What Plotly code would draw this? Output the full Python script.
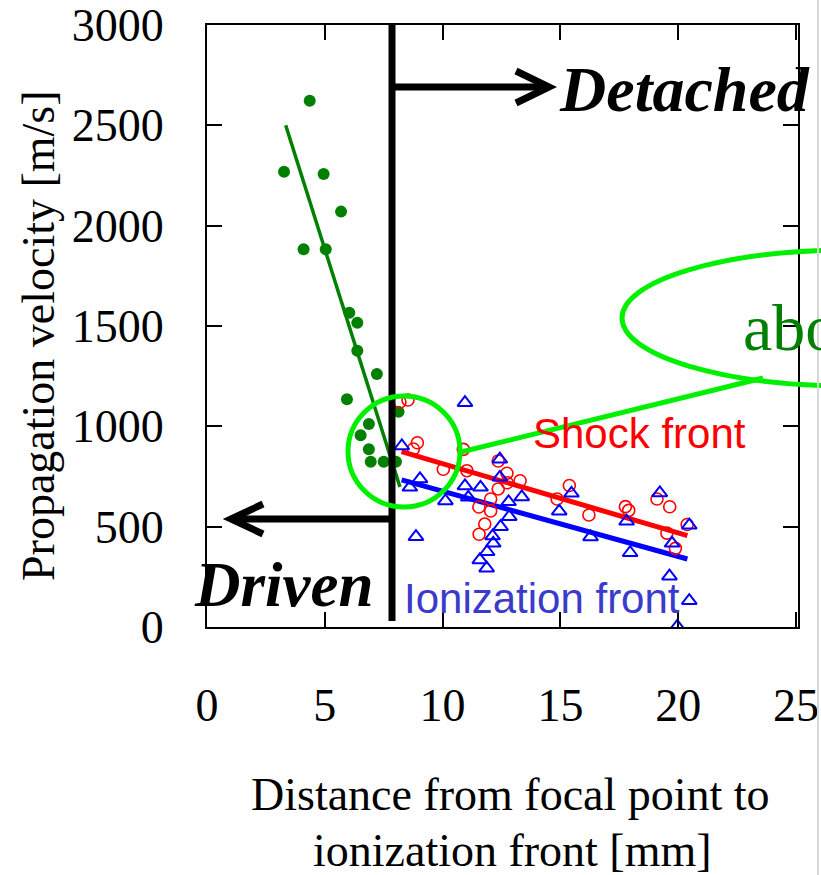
import plotly.graph_objects as go

# Driven regime (ionization front attached to the laser focus)
driven_x = [4.36, 3.27, 4.95, 5.69, 4.10, 5.04, 6.04, 6.38, 6.38, 7.21,
            5.94, 8.13, 6.87, 6.52, 6.87, 6.95, 7.50, 8.02]
driven_v = [2623, 2269, 2257, 2070, 1882, 1882, 1566, 1516, 1377, 1261,
            1135, 1073, 1012, 955, 886, 824, 824, 824]

# Shock front velocities (detached regime)
shock_x = [8.19, 8.53, 8.93, 8.76, 10.03, 10.88, 11.03, 12.36, 12.73, 13.29,
           12.74, 12.36, 12.04, 11.54, 12.04, 11.79, 11.55, 14.86, 15.38, 16.21,
           17.76, 17.90, 19.10, 19.64, 19.52, 19.88, 20.38]
shock_v = [1121, 1131, 918, 887, 786, 885, 779, 827, 766, 729,
           719, 688, 638, 598, 578, 513, 462, 638, 705, 558,
           600, 581, 638, 599, 468, 392, 511]

# Ionization front velocities (detached regime)
ion_x = [10.95, 8.27, 9.04, 8.61, 10.12, 10.95, 11.09, 11.61, 8.87, 12.43,
         12.43, 12.80, 13.36, 12.83, 12.46, 12.12, 12.15, 11.89, 11.58, 11.87,
         15.47, 14.95, 16.28, 17.81, 17.96, 19.22, 19.74, 20.47, 19.63, 20.47, 19.96]
ion_v = [1118, 902, 738, 696, 628, 703, 646, 696, 450, 836,
         746, 624, 648, 550, 500, 453, 417, 375, 334, 293,
         666, 577, 449, 527, 370, 668, 417, 507, 253, 131, 3]

# Linear fits
driven_fit_x = [3.34, 8.19]
driven_fit_v = [2500, 698]
front_fit_x = [8.26, 20.39]
shock_fit_v = [874, 455]
ion_fit_v = [733, 339]

x_ticks = [0, 5, 10, 15, 20, 25]
y_ticks = [0, 500, 1000, 1500, 2000, 2500, 3000]

W, H = 821, 875
L, R, T, B = 207, 798, 25, 627

def fx(p):
    return (p - L) / (R - L)

def fy(p):
    return (B - p) / (B - T)

SERIF = "Liberation Serif, Times New Roman, serif"
SANS = "Liberation Sans, Arial, sans-serif"
GREEN = "#008000"
LIME = "#00f000"

fig = go.Figure()
fig.add_trace(go.Scatter(x=driven_fit_x, y=driven_fit_v, mode="lines",
                         line=dict(color=GREEN, width=3.5), showlegend=False))
fig.add_trace(go.Scatter(x=front_fit_x, y=shock_fit_v, mode="lines",
                         line=dict(color="#ff0000", width=5), showlegend=False))
fig.add_trace(go.Scatter(x=front_fit_x, y=ion_fit_v, mode="lines",
                         line=dict(color="#0000ff", width=5), showlegend=False))
fig.add_trace(go.Scatter(x=driven_x, y=driven_v, mode="markers",
                         marker=dict(color=GREEN, size=12, symbol="circle"),
                         showlegend=False))
fig.add_trace(go.Scatter(x=shock_x, y=shock_v, mode="markers",
                         marker=dict(color="#ff0000", size=12, symbol="circle-open",
                                     line=dict(width=1.6)),
                         showlegend=False))
fig.add_trace(go.Scatter(x=ion_x, y=ion_v, mode="markers",
                         marker=dict(color="#0000ff", size=13, symbol="triangle-up-open",
                                     line=dict(width=2)),
                         showlegend=False))

shapes = []
# boundary between driven and detached regimes
shapes.append(dict(type="line", xref="paper", yref="paper",
                   x0=fx(392), x1=fx(392), y0=fy(25), y1=fy(621),
                   line=dict(color="black", width=7)))
# "Detached" arrow
shapes.append(dict(type="line", xref="paper", yref="paper",
                   x0=fx(392), x1=fx(547), y0=fy(87), y1=fy(87),
                   line=dict(color="black", width=7)))
shapes.append(dict(type="path", xref="paper", yref="paper",
                   path=f"M {fx(516)} {fy(71)} L {fx(549)} {fy(87)} L {fx(516)} {fy(103)}",
                   line=dict(color="black", width=7)))
# "Driven" arrow
shapes.append(dict(type="line", xref="paper", yref="paper",
                   x0=fx(392), x1=fx(233), y0=fy(519), y1=fy(519),
                   line=dict(color="black", width=7)))
shapes.append(dict(type="path", xref="paper", yref="paper",
                   path=f"M {fx(263)} {fy(504)} L {fx(231)} {fy(519)} L {fx(263)} {fy(534)}",
                   line=dict(color="black", width=7)))
# callout: circle, connector and ellipse
shapes.append(dict(type="circle", xref="paper", yref="paper",
                   x0=fx(348), x1=fx(460), y0=fy(507), y1=fy(396),
                   line=dict(color=LIME, width=5)))
shapes.append(dict(type="line", xref="paper", yref="paper",
                   x0=fx(461), x1=fx(763), y0=fy(452), y1=fy(378),
                   line=dict(color=LIME, width=5)))
shapes.append(dict(type="circle", xref="paper", yref="paper",
                   x0=fx(622), x1=fx(1078), y0=fy(386), y1=fy(250),
                   line=dict(color=LIME, width=5)))
# page edge
shapes.append(dict(type="line", xref="paper", yref="paper",
                   x0=fx(818), x1=fx(818), y0=fy(0), y1=fy(875),
                   line=dict(color="#d8d8d8", width=2)))

annotations = [
    dict(text="<b><i>Detached</i></b>", x=fx(557), y=fy(89), xanchor="left", yanchor="middle",
         font=dict(family=SERIF, size=64, color="black")),
    dict(text="<b><i>Driven</i></b>", x=fx(192), y=fy(585), xanchor="left", yanchor="middle",
         font=dict(family=SERIF, size=63, color="black")),
    dict(text="Shock front", x=fx(531), y=fy(433), xanchor="left", yanchor="middle",
         font=dict(family=SANS, size=42, color="#ff0000")),
    dict(text="Ionization front", x=fx(402), y=fy(598), xanchor="left", yanchor="middle",
         font=dict(family=SANS, size=42, color="#3a3acc")),
    dict(text="about", x=fx(741), y=fy(327), xanchor="left", yanchor="middle",
         font=dict(family=SERIF, size=66, color=GREEN)),
    dict(text="Propagation velocity [m/s]", x=fx(38), y=fy(336), textangle=-90,
         xanchor="center", yanchor="middle",
         font=dict(family=SERIF, size=46, color="black")),
    dict(text="Distance from focal point to", x=fx(511), y=fy(794),
         xanchor="center", yanchor="middle",
         font=dict(family=SERIF, size=46, color="black")),
    dict(text="ionization front [mm]", x=fx(512), y=fy(850),
         xanchor="center", yanchor="middle",
         font=dict(family=SERIF, size=46, color="black")),
]
for a in annotations:
    a.update(xref="paper", yref="paper", showarrow=False)

axis_common = dict(showline=True, linecolor="black", linewidth=2, mirror="allticks",
                   ticks="inside", ticklen=15, tickwidth=2, tickcolor="black",
                   showgrid=False, zeroline=False, automargin=False,
                   tickfont=dict(family=SERIF, size=46, color="black"))

fig.update_layout(
    width=W, height=H,
    margin=dict(l=L, r=W - R, t=T, b=H - B, autoexpand=False),
    paper_bgcolor="white", plot_bgcolor="white",
    xaxis=dict(range=[0, 25 * (R - L) / 589], tickvals=x_ticks,
               ticklabelstandoff=37, **axis_common),
    yaxis=dict(range=[0, 3000], tickvals=y_ticks,
               ticklabelstandoff=32, **axis_common),
    shapes=shapes, annotations=annotations,
)

fig.write_html("out.html")
